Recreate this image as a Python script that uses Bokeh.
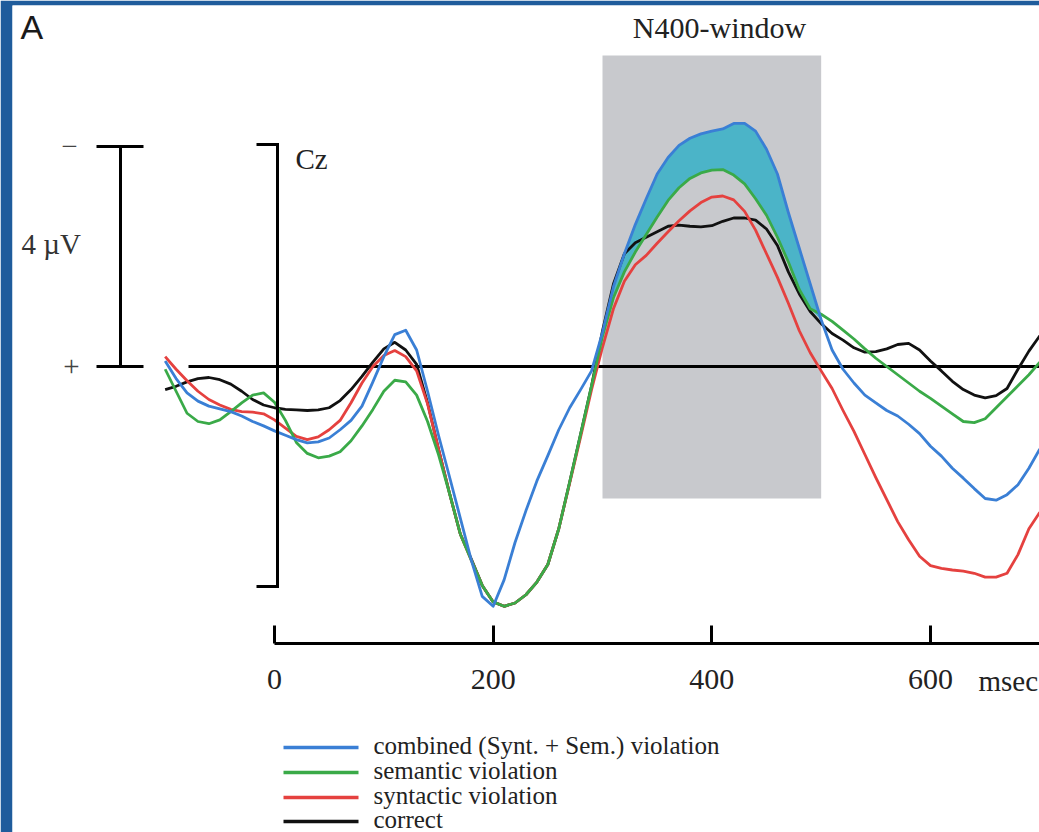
import numpy as np
from bokeh.plotting import figure
from bokeh.models import Range1d, LinearAxis, FixedTicker
from bokeh.core.properties import value
from bokeh.embed import file_html
from bokeh.resources import INLINE

# ---------------- data (µV, negative up) ----------------
time_ms = list(range(-100, 701, 10))

correct = [0.42, 0.36, 0.28, 0.22, 0.20, 0.24, 0.32, 0.45, 0.60, 0.70,
           0.75, 0.78, 0.79, 0.80, 0.79, 0.75, 0.62, 0.42, 0.18, -0.08,
           -0.32, -0.44, -0.30, -0.04, 0.66, 1.50, 2.30, 3.05, 3.50, 3.98,
           4.28, 4.36, 4.30, 4.15, 3.92, 3.60, 2.95, 2.10, 1.23, 0.35,
           -0.65, -1.50, -2.05, -2.25, -2.35, -2.45, -2.55, -2.57, -2.55, -2.54,
           -2.56, -2.64, -2.70, -2.70, -2.66, -2.50, -2.20, -1.72, -1.32, -1.00,
           -0.78, -0.60, -0.48, -0.34, -0.26, -0.27, -0.32, -0.40, -0.42, -0.30,
           -0.10, 0.08, 0.27, 0.42, 0.52, 0.57, 0.53, 0.40, 0.05, -0.28,
           -0.56]

syntactic = [-0.18, 0.05, 0.26, 0.45, 0.60, 0.70, 0.78, 0.82, 0.83, 0.86,
             0.97, 1.12, 1.27, 1.33, 1.28, 1.15, 0.98, 0.66, 0.30, 0.00,
             -0.20, -0.29, -0.18, 0.08, 0.68, 1.50, 2.30, 3.05, 3.52, 3.98,
             4.28, 4.36, 4.30, 4.15, 3.92, 3.60, 2.95, 2.12, 1.28, 0.42,
             -0.35, -1.05, -1.55, -1.85, -2.02, -2.24, -2.45, -2.65, -2.83, -2.98,
             -3.08, -3.10, -3.03, -2.82, -2.48, -2.05, -1.62, -1.15, -0.65, -0.25,
             0.08, 0.40, 0.80, 1.18, 1.60, 2.02, 2.42, 2.82, 3.15, 3.45,
             3.62, 3.67, 3.70, 3.72, 3.76, 3.83, 3.83, 3.76, 3.42, 2.95,
             2.65]

semantic = [0.05, 0.45, 0.85, 1.00, 1.04, 0.97, 0.82, 0.66, 0.52, 0.48,
            0.65, 0.98, 1.38, 1.58, 1.66, 1.63, 1.55, 1.35, 1.08, 0.78,
            0.45, 0.25, 0.28, 0.52, 1.00, 1.60, 2.30, 3.05, 3.52, 3.98,
            4.28, 4.36, 4.30, 4.15, 3.92, 3.60, 2.95, 2.10, 1.23, 0.35,
            -0.55, -1.25, -1.72, -2.08, -2.40, -2.72, -3.02, -3.25, -3.42, -3.52,
            -3.57, -3.58, -3.48, -3.32, -3.05, -2.75, -2.35, -1.90, -1.40, -1.05,
            -0.95, -0.82, -0.66, -0.50, -0.32, -0.15, 0.00, 0.15, 0.30, 0.45,
            0.58, 0.72, 0.86, 1.00, 1.02, 0.95, 0.75, 0.55, 0.35, 0.15,
            -0.08]

combined = [-0.10, 0.22, 0.48, 0.63, 0.72, 0.77, 0.82, 0.90, 1.00, 1.08,
            1.17, 1.25, 1.33, 1.39, 1.37, 1.30, 1.15, 0.98, 0.72, 0.28,
            -0.18, -0.58, -0.66, -0.30, 0.45, 1.25, 2.00, 2.76, 3.52, 4.18,
            4.36, 3.88, 3.20, 2.62, 2.08, 1.62, 1.15, 0.75, 0.42, 0.08,
            -0.62, -1.45, -2.05, -2.58, -3.05, -3.50, -3.80, -4.02, -4.15, -4.23,
            -4.28, -4.32, -4.42, -4.42, -4.28, -3.95, -3.50, -2.80, -2.15, -1.50,
            -0.85, -0.30, 0.05, 0.30, 0.52, 0.66, 0.80, 0.90, 1.05, 1.22,
            1.45, 1.63, 1.85, 2.03, 2.22, 2.40, 2.43, 2.33, 2.15, 1.85,
            1.50]

series_labels = ["combined (Synt. + Sem.) violation", "semantic violation",
                 "syntactic violation", "correct"]
series_colors = ["#3a7fd5", "#3aaa48", "#e5413f", "#111111"]

tick_values = [0, 200, 400, 600]
tick_labels = {0: "0", 200: "200", 400: "400", 600: "600"}
n400_start, n400_end = 300, 500
scale_uv = 4

# ---------------- figure geometry ----------------
W, H = 1039, 832
STRIP_L, STRIP_T = 12, 5
PX_MS = 656.0 / 600.0
PX_UV = 55.0
X0, Y0 = 274.0, 366.0   # page position of t=0, v=0

def t_at(px):
    return (px - X0) / PX_MS

def v_at(py):
    return (py - Y0) / PX_UV

p = figure(width=W, height=H,
           x_range=Range1d(start=t_at(STRIP_L), end=t_at(W)),
           y_range=Range1d(start=v_at(H), end=v_at(STRIP_T)),
           output_backend="svg", toolbar_location=None,
           x_axis_type=None, y_axis_type=None,
           min_border_left=STRIP_L, min_border_right=0,
           min_border_top=STRIP_T, min_border_bottom=0,
           border_fill_color="#1f5c9c", background_fill_color="white",
           outline_line_color=None)

SERIF = value("Liberation Serif")
TXT = "#222222"

# N400 window
p.quad(left=[n400_start], right=[n400_end], top=[v_at(55)], bottom=[v_at(498)],
       fill_color="#c8c9cd", line_color=None)

# shaded difference combined vs semantic inside window
t = np.array(time_ms, dtype=float)
b = np.array(combined)
g = np.array(semantic)
m = (t >= n400_start) & (t <= n400_end)
p.varea(x=t[m], y1=b[m], y2=np.where(b[m] < g[m], g[m], b[m]), fill_color="#4bb4c8")

# baseline
p.line([t_at(188), time_ms[-1]], [0, 0], line_color="black", line_width=3)

# waveforms
order = [(correct, 3), (syntactic, 2), (semantic, 1), (combined, 0)]
for vals, idx in order:
    p.line(time_ms, vals, line_color=series_colors[idx], line_width=2.8,
           line_join="round")

# left amplitude scale bar (4 µV)
xb = t_at(120)
p.segment(x0=[xb, t_at(96), t_at(96)], y0=[0, -scale_uv, 0],
          x1=[xb, t_at(143), t_at(143)], y1=[-scale_uv, -scale_uv, 0],
          line_color="black", line_width=3)

# Cz bracket
xc = t_at(277)
p.line([t_at(256), xc, xc, t_at(256)], [v_at(144), v_at(144), v_at(586), v_at(586)],
       line_color="black", line_width=3, line_join="miter")

# time axis
ax = LinearAxis(fixed_location=v_at(643), bounds=(0, 700),
                ticker=FixedTicker(ticks=tick_values))
ax.major_label_overrides = tick_labels
ax.axis_line_width = 3
ax.axis_line_color = "black"
ax.major_tick_line_width = 3
ax.major_tick_in = 18
ax.major_tick_out = 0
ax.minor_tick_in = 0
ax.minor_tick_out = 0
ax.major_label_standoff = 26
ax.major_label_text_font = "Liberation Serif"
ax.major_label_text_font_size = "30px"
ax.major_label_text_color = TXT
p.add_layout(ax, "below")

# texts
p.text(x=[t_at(20)], y=[v_at(26)], text=["A"], text_font=value("Liberation Sans"),
       text_font_size="34px", text_color="#1a1a1a", text_baseline="middle", text_align="left")
p.text(x=[(n400_start + n400_end) / 2 + 7], y=[v_at(27)], text=["N400-window"], text_font=SERIF,
       text_font_size="30px", text_color=TXT, text_baseline="middle", text_align="center")
p.text(x=[t_at(295)], y=[v_at(158)], text=["Cz"], text_font=SERIF,
       text_font_size="29px", text_color=TXT, text_baseline="middle", text_align="left")
p.text(x=[t_at(21)], y=[v_at(243)], text=["4 µV"], text_font=SERIF,
       text_font_size="29px", text_color="#333333", text_baseline="middle", text_align="left")
p.text(x=[t_at(69), t_at(71)], y=[-scale_uv, 0], text=["−", "+"], text_font=SERIF,
       text_font_size="29px", text_color="#444444", text_baseline="middle", text_align="center")
p.text(x=[t_at(978)], y=[v_at(680)], text=["msec"], text_font=SERIF,
       text_font_size="29px", text_color=TXT, text_baseline="middle", text_align="left")

# legend (drawn manually)
line_rows = [v_at(747), v_at(772), v_at(797), v_at(821)]
text_rows = [v_at(745), v_at(770), v_at(795), v_at(819)]
p.segment(x0=[t_at(283)] * 4, x1=[t_at(358)] * 4, y0=line_rows, y1=line_rows,
          line_color=series_colors, line_width=3.5)
p.text(x=[t_at(373)] * 4, y=text_rows, text=series_labels, text_font=SERIF,
       text_font_size="25px", text_color=TXT, text_baseline="middle", text_align="left")

open("out.html", "w").write(file_html(p, INLINE))
